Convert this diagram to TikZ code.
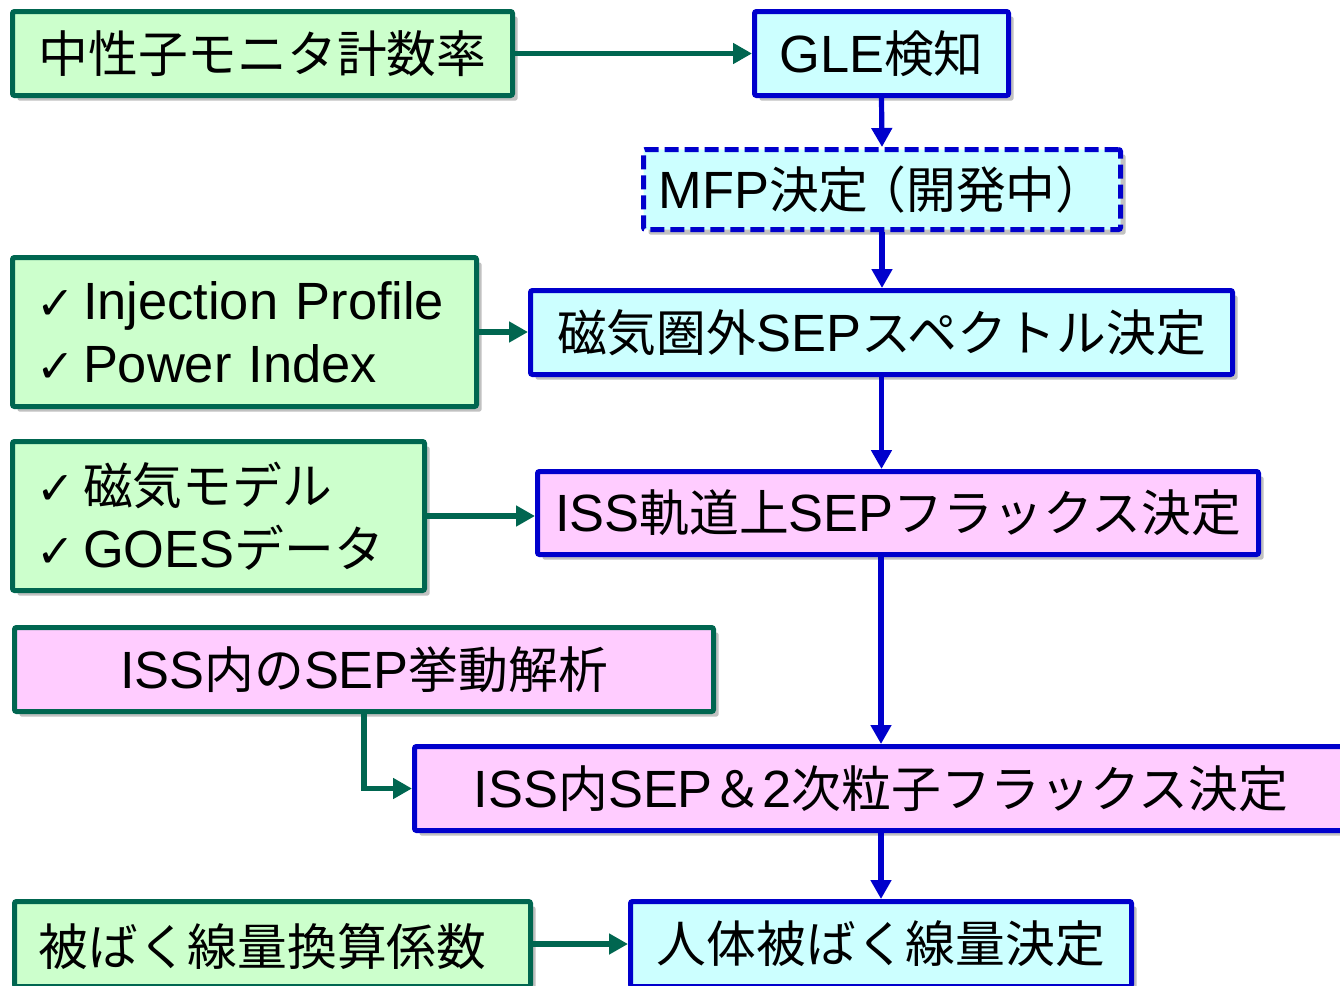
\documentclass[tikz,border=0pt]{standalone}
\usepackage{fontspec}
\setmainfont{Liberation Sans}
\newfontfamily\jp[Scale=0.95]{Noto Sans CJK JP}
\newfontfamily\sym{DejaVu Sans}
\usetikzlibrary{arrows.meta,shadows}
\definecolor{dgreen}{RGB}{0,102,80}
\definecolor{dblue}{RGB}{0,0,204}
\definecolor{lgreen}{RGB}{204,255,204}
\definecolor{lcyan}{RGB}{204,255,255}
\definecolor{lpink}{RGB}{255,204,255}
\newcommand{\ck}{{\sym\fontsize{23}{20}\selectfont ✓}\hspace{4pt}}
\tikzset{
  basebox/.style={rectangle, line width=2.5pt, rounded corners=1pt, inner sep=0pt,
    font=\fontsize{26.2}{31.5}\selectfont,
    drop shadow={shadow xshift=2.5pt, shadow yshift=-2.5pt, opacity=0.35, fill=black!70}},
  gbox/.style={basebox, draw=dgreen, fill=lgreen},
  cbox/.style={basebox, draw=dblue, fill=lcyan},
  pbox/.style={basebox, draw=dblue, fill=lpink},
  pgbox/.style={basebox, draw=dgreen, fill=lpink},
  barrow/.style={draw=dblue, line width=2.6pt, -{Triangle[length=9.5pt,width=10pt]}},
  garrow/.style={draw=dgreen, line width=2.6pt, -{Triangle[length=9.5pt,width=10pt]}},
}
\begin{document}
\begin{tikzpicture}[x=0.5pt,y=-0.5pt]
\useasboundingbox (0,0) rectangle (1340,986);
\node[gbox, minimum width=250pt, minimum height=42pt] (A) at (262.5,53.5) {{\jp 中性子モニタ計数率}};
\node[cbox, minimum width=127pt, minimum height=42pt] (B) at (881.5,53.5) {GLE{\jp 検知}};
\node[cbox, dashed, dash pattern=on 7pt off 3pt, minimum width=238.5pt, minimum height=40pt] (C) at (882,189.5) {MFP{\jp 決定}\hspace{-6pt}{\jp （開発中）}};
\node[cbox, minimum width=351pt, minimum height=42pt] (D) at (881.5,332.5) {{\jp 磁気圏外}SEP{\jp スペクトル決定}};
\node[gbox, inner xsep=12pt, text width=208pt, align=left, minimum height=74.5pt] (E) at (244.5,332) {\ck Injection Profile\\\ck Power Index};
\node[gbox, inner xsep=12pt, text width=182pt, align=left, minimum height=74.5pt] (F) at (218.5,516) {\ck{\jp 磁気モデル}\\\ck GOES{\jp データ}};
\node[pbox, minimum width=360.5pt, minimum height=41.5pt] (G) at (898,513) {ISS{\jp 軌道上}SEP{\jp フラックス決定}};
\node[pgbox, minimum width=349.5pt, minimum height=42pt] (H) at (364,669.5) {ISS{\jp 内の}SEP{\jp 挙動解析}};
\node[pbox, minimum width=466.5pt, minimum height=42pt] (I) at (881,788.5) {ISS{\jp 内}SEP{\jp ＆}2{\jp 次粒子フラックス決定}};
\node[gbox, minimum width=258pt, minimum height=42.5pt, text depth=0pt] (J) at (272.5,944) {\hspace{-10pt}{\jp 被ばく線量換算係数}};
\node[cbox, minimum width=250.5pt, minimum height=42.5pt] (K) at (881,944) {{\jp 人体被ばく線量決定}};
\draw[garrow] (A.east) -- (B.west);
\draw[barrow] (B.south) -- (C.north);
\draw[barrow] (C.south) -- (C.south |- D.north);
\draw[garrow] (E.east) -- (E.east -| D.west);
\draw[barrow] (D.south) -- (D.south |- G.north);
\draw[garrow] (F.east) -- (F.east -| G.west);
\draw[barrow] (I.north |- G.south) -- (I.north);
\draw[garrow] (H.south) |- (I.west);
\draw[barrow] (I.south) -- (K.north);
\draw[garrow] (J.east) -- (K.west);
\end{tikzpicture}
\end{document}
